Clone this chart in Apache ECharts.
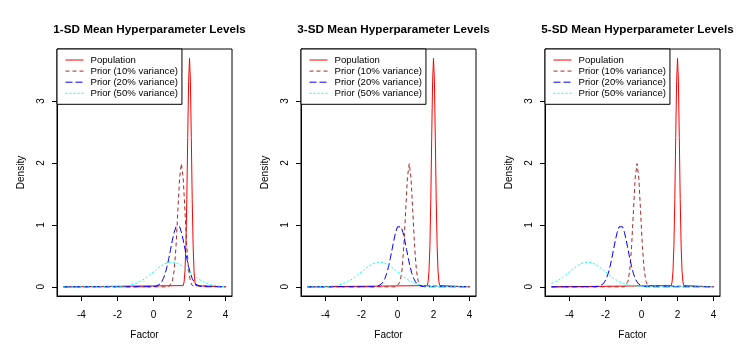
<!DOCTYPE html>
<html>
<head>
<meta charset="utf-8">
<script src="https://cdn.jsdelivr.net/npm/echarts@6/dist/echarts.min.js"></script>
<style>
html,body{margin:0;padding:0;background:#fff;}
#chart{width:743px;height:354px;}
</style>
</head>
<body>
<div id="chart"></div>
<script>
// ---- Data ----
var panelTitles = ['1-SD Mean Hyperparameter Levels', '3-SD Mean Hyperparameter Levels', '5-SD Mean Hyperparameter Levels'];
var seriesNames = ['Population', 'Prior (10% variance)', 'Prior (20% variance)', 'Prior (50% variance)'];
var xTicks = [-4, -2, 0, 2, 4];
var yTicks = [0, 1, 2, 3];

// Population (same in every panel)
var popX = [-5, 1.65, 1.7, 1.75, 1.8, 1.85, 1.9, 1.95, 2.0, 2.05, 2.1, 2.15, 2.2, 2.25, 2.3, 2.35, 4];
var popY = [0, 0.02, 0.08, 0.26, 0.67, 1.41, 2.41, 3.32, 3.69, 3.32, 2.41, 1.41, 0.67, 0.26, 0.08, 0.02, 0];

// Prior 10%
var p10Y = [0, 0.00, 0.02, 0.09, 0.27, 0.65, 1.21, 1.76, 1.99, 1.76, 1.21, 0.65, 0.27, 0.09, 0.02, 0.00, 0];
var p10X1 = [-5, 0.85, 0.95, 1.05, 1.15, 1.25, 1.35, 1.45, 1.55, 1.65, 1.75, 1.85, 1.95, 2.05, 2.15, 2.25, 4];
var p10X2 = [-5, -0.05, 0.05, 0.15, 0.25, 0.35, 0.45, 0.55, 0.65, 0.75, 0.85, 0.95, 1.05, 1.15, 1.25, 1.35, 4];
var p10X3 = [-5, -0.95, -0.85, -0.75, -0.65, -0.55, -0.45, -0.35, -0.25, -0.15, -0.05, 0.05, 0.15, 0.25, 0.35, 0.45, 4];

// Prior 20%
var p20Y = [0, 0.002, 0.005, 0.011, 0.023, 0.044, 0.080, 0.135, 0.216, 0.325, 0.458, 0.607, 0.755, 0.882, 0.969, 1.0,
            0.969, 0.882, 0.755, 0.607, 0.458, 0.325, 0.216, 0.135, 0.080, 0.044, 0.023, 0.011, 0.005, 0.002, 0];
var p20X1 = [-5, -0.05, 0.05, 0.15, 0.25, 0.35, 0.45, 0.55, 0.65, 0.75, 0.85, 0.95, 1.05, 1.15, 1.25, 1.35,
             1.45, 1.55, 1.65, 1.75, 1.85, 1.95, 2.05, 2.15, 2.25, 2.35, 2.45, 2.55, 2.65, 2.75, 4];
var p20X2 = [-5, -1.3, -1.2, -1.1, -1.0, -0.9, -0.8, -0.7, -0.6, -0.5, -0.4, -0.3, -0.2, -0.1, 0.0, 0.1,
             0.2, 0.3, 0.4, 0.5, 0.6, 0.7, 0.8, 0.9, 1.0, 1.1, 1.2, 1.3, 1.4, 1.5, 4];
var p20X3 = [-5, -2.55, -2.45, -2.35, -2.25, -2.15, -2.05, -1.95, -1.85, -1.75, -1.65, -1.55, -1.45, -1.35, -1.25, -1.15,
             -1.05, -0.95, -0.85, -0.75, -0.65, -0.55, -0.45, -0.35, -0.25, -0.15, -0.05, 0.05, 0.15, 0.25, 4];

// Prior 50%
var p50X1 = [-5, -2.2, -2.0, -1.8, -1.6, -1.4, -1.2, -1.0, -0.8, -0.6, -0.4, -0.2, 0.0, 0.2, 0.4, 0.6, 0.8, 1.0,
             1.2, 1.4, 1.6, 1.8, 2.0, 2.2, 2.4, 2.6, 2.8, 3.0, 3.2, 3.4, 3.6, 3.8, 4.0];
var p50Y1 = [0, 0.002, 0.004, 0.008, 0.014, 0.022, 0.035, 0.054, 0.079, 0.111, 0.150, 0.194, 0.242, 0.290, 0.333, 0.368, 0.391, 0.399,
             0.391, 0.368, 0.333, 0.290, 0.242, 0.194, 0.150, 0.111, 0.079, 0.054, 0.035, 0.022, 0.014, 0.008, 0.004];
var p50X2 = [-5, -4.2, -4.0, -3.8, -3.6, -3.4, -3.2, -3.0, -2.8, -2.6, -2.4, -2.2, -2.0, -1.8, -1.6, -1.4, -1.2, -1.0,
             -0.8, -0.6, -0.4, -0.2, 0.0, 0.2, 0.4, 0.6, 0.8, 1.0, 1.2, 1.4, 1.6, 1.8, 2.0, 2.2, 4];
var p50Y2 = [0, 0.002, 0.004, 0.008, 0.014, 0.022, 0.035, 0.054, 0.079, 0.111, 0.150, 0.194, 0.242, 0.290, 0.333, 0.368, 0.391, 0.399,
             0.391, 0.368, 0.333, 0.290, 0.242, 0.194, 0.150, 0.111, 0.079, 0.054, 0.035, 0.022, 0.014, 0.008, 0.004, 0.002, 0];
var p50X3 = [-5.0, -4.8, -4.6, -4.4, -4.2, -4.0, -3.8, -3.6, -3.4, -3.2, -3.0, -2.8, -2.6, -2.4, -2.2, -2.0, -1.8,
             -1.6, -1.4, -1.2, -1.0, -0.8, -0.6, -0.4, -0.2, 0.0, 0.2, 4];
var p50Y3 = [0.054, 0.079, 0.111, 0.150, 0.194, 0.242, 0.290, 0.333, 0.368, 0.391, 0.399, 0.391, 0.368, 0.333, 0.290, 0.242, 0.194,
             0.150, 0.111, 0.079, 0.054, 0.035, 0.022, 0.014, 0.008, 0.004, 0.002, 0];

var panelData = [
  [[popX, popY], [p10X1, p10Y], [p20X1, p20Y], [p50X1, p50Y1]],
  [[popX, popY], [p10X2, p10Y], [p20X2, p20Y], [p50X2, p50Y2]],
  [[popX, popY], [p10X3, p10Y], [p20X3, p20Y], [p50X3, p50Y3]]
];

// ---- Styling ----
var colors = ['#FF0000', '#A52A2A', '#0000FF', '#00FFFF'];
var dashes = ['solid', [4, 3], [7, 3], [2, 2]];
var gridLefts = [57, 301, 545];
var plotW = 175, plotH = 247, plotTop = 49;
var fontFam = '"Liberation Sans", Arial, Helvetica, sans-serif';

function zip(xs, ys) { return xs.map(function (x, i) { return [x, ys[i]]; }); }

var option = {
  animation: false,
  backgroundColor: '#fff',
  title: [], grid: [], xAxis: [], yAxis: [], series: [], legend: []
};

for (var p = 0; p < 3; p++) {
  var L = gridLefts[p];
  option.title.push({
    text: panelTitles[p], left: L + plotW / 2, top: 19, textAlign: 'center',
    textStyle: { fontFamily: fontFam, fontSize: 11.7, fontWeight: 'bold', color: '#000' }
  });
  option.grid.push({
    left: L, top: plotTop, width: plotW, height: plotH,
    show: true, borderColor: '#000', borderWidth: 1, backgroundColor: 'transparent'
  });
  option.xAxis.push({
    type: 'value', gridIndex: p, min: -5.36, max: 4.36,
    name: 'Factor', nameLocation: 'middle', nameGap: 34,
    nameTextStyle: { fontFamily: fontFam, fontSize: 10, color: '#000' },
    axisLine: { show: true, onZero: false, lineStyle: { color: '#000', width: 1 } },
    axisTick: { show: true, inside: false, length: 5, customValues: xTicks, lineStyle: { color: '#000' } },
    axisLabel: { customValues: xTicks, margin: 14, fontFamily: fontFam, fontSize: 10, color: '#000' },
    splitLine: { show: false }
  });
  option.yAxis.push({
    type: 'value', gridIndex: p, min: -0.148, max: 3.84,
    name: 'Density', nameLocation: 'middle', nameGap: 31, nameRotate: 90,
    nameTextStyle: { fontFamily: fontFam, fontSize: 10, color: '#000' },
    axisLine: { show: true, onZero: false, lineStyle: { color: '#000', width: 1 } },
    axisTick: { show: true, inside: false, length: 5, customValues: yTicks, lineStyle: { color: '#000' } },
    axisLabel: { customValues: yTicks, rotate: 90, margin: 11, fontFamily: fontFam, fontSize: 10, color: '#000' },
    splitLine: { show: false }
  });
  for (var s = 0; s < 4; s++) {
    option.series.push({
      name: seriesNames[s], type: 'line', xAxisIndex: p, yAxisIndex: p,
      data: zip(panelData[p][s][0], panelData[p][s][1]),
      showSymbol: false, symbol: 'none', silent: true,
      lineStyle: { color: colors[s], width: 1, type: dashes[s] },
      itemStyle: { color: colors[s] },
      z: 2 + s
    });
  }
  option.legend.push({
    data: seriesNames, left: L, top: plotTop, orient: 'vertical',
    backgroundColor: '#fff', borderColor: '#000', borderWidth: 1, borderRadius: 0,
    padding: [6, 4, 6, 8], itemWidth: 18, itemHeight: 10, itemGap: 1.1,
    selectedMode: false, z: 10,
    itemStyle: { color: 'rgba(0,0,0,0)', borderWidth: 0, opacity: 0 },
    lineStyle: { width: 1 },
    textStyle: { fontFamily: fontFam, fontSize: 9.6, color: '#000', padding: [0, 0, 0, 2] }
  });
}

var chart = echarts.init(document.getElementById('chart'), null, { renderer: 'canvas' });
chart.setOption(option);
</script>
</body>
</html>
